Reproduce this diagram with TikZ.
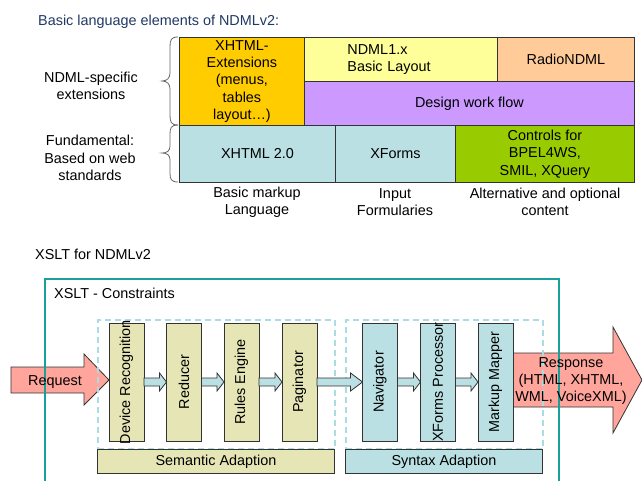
\documentclass[tikz,border=0pt]{standalone}
\usepackage{fontspec}
\setmainfont{Liberation Sans}
\usetikzlibrary{calc,backgrounds}
\definecolor{navy}{HTML}{203864}
\definecolor{tealc}{HTML}{18A09A}
\definecolor{dashblue}{HTML}{A9DCE3}
\definecolor{lblue}{HTML}{BAE0E3}
\definecolor{khaki}{HTML}{E5E5B5}
\definecolor{salmon}{HTML}{FFA59C}
\definecolor{orangec}{HTML}{FFCC00}
\definecolor{yellowc}{HTML}{FFFF99}
\definecolor{peach}{HTML}{FFCC99}
\definecolor{purplec}{HTML}{CC99FF}
\definecolor{greenc}{HTML}{99CC00}
\definecolor{edge}{HTML}{333333}
\begin{document}
\begin{tikzpicture}[x=1pt,y=-1pt,
  every node/.style={font=\fontsize{14.4}{17.4}\selectfont, inner sep=0pt},
  cell/.style={draw=edge, line width=0.9pt, anchor=north west, align=center},
  vbox/.style={draw=edge, line width=0.9pt, rotate=90, minimum width=118pt, minimum height=35pt},
  bar/.style={draw=edge, line width=0.9pt, anchor=north west, minimum height=24pt},
  dashbox/.style={draw=dashblue, line width=1.5pt, dash pattern=on 6pt off 4pt, anchor=north west, minimum height=129pt},
  sarrow/.style={draw=edge, line width=0.8pt, fill=lblue},
  bigarrow/.style={draw=edge, line width=0.8pt, fill=salmon},
  bracec/.style={draw=gray!80!black, line width=0.8pt},
  lbl/.style={align=center}
]
\useasboundingbox (0,0) rectangle (642,481);

% ---------- top part ----------
\node[anchor=west, text=navy] (title) at (38,22) {Basic language elements of NDMLv2:};

\node[cell, fill=orangec, minimum width=125pt, minimum height=88pt] (ext) at (179,37)
  {XHTML-\\Extensions\\(menus,\\tables\\layout\ldots)};
\node[cell, fill=yellowc, minimum width=193pt, minimum height=44pt, text width=107pt, align=left] (ndml) at (304,37)
  {NDML1.x\\Basic Layout};
\node[cell, fill=peach, minimum width=137pt, minimum height=44pt] (radio) at (497,37) {RadioNDML};
\node[cell, fill=purplec, minimum width=330pt, minimum height=44pt] (design) at (304,81) {Design work flow};
\node[cell, fill=lblue, minimum width=156pt, minimum height=57pt] (xhtml) at (179,125) {XHTML 2.0};
\node[cell, fill=lblue, minimum width=120pt, minimum height=57pt] (xforms) at (335,125) {XForms};
\node[cell, fill=greenc, minimum width=179pt, minimum height=57pt] (controls) at (455,125)
  {Controls for\\BPEL4WS,\\SMIL, XQuery};

\node[lbl] (lblmarkup) at (257,202) {Basic markup\\Language};
\node[lbl] (lblinput) at (395,202) {Input\\Formularies};
\node[lbl] (lblalt) at (545,202) {Alternative and optional\\content};

\node[lbl] (lblndml) at (91,86) {NDML-specific\\extensions};
\node[lbl] (lblfund) at (90,158) {Fundamental:\\Based on web\\standards};

\draw[bracec] (178,37) .. controls (171,37) and (170,40) .. (170,47) -- (170,73)
  .. controls (170,78) and (167,81) .. (162,81)
  .. controls (167,81) and (170,84) .. (170,89) -- (170,115)
  .. controls (170,122) and (171,125) .. (178,125);
\draw[bracec] (178,125) .. controls (171,125) and (170,128) .. (170,134) -- (170,146)
  .. controls (170,151) and (167,153) .. (162,153)
  .. controls (167,153) and (170,155) .. (170,160) -- (170,173)
  .. controls (170,179) and (171,182) .. (178,182);

% ---------- bottom part ----------
\node[anchor=west] (xsltt) at (35,254) {XSLT for NDMLv2};

% frames
\draw[tealc, line width=1.5pt] (45,482) -- (45,279) -- (559,279) -- (559,482);
\node[anchor=west] (constr) at (54,293) {XSLT - Constraints};
\node[dashbox, minimum width=237pt] (semdash) at (97,319) {};
\node[dashbox, minimum width=197pt] (syndash) at (345,319) {};
\node[bar, fill=khaki, minimum width=237pt] (sem) at (97,449) {Semantic Adaption};
\node[bar, fill=lblue, minimum width=197pt] (syn) at (345,449) {Syntax Adaption};

% vertical boxes
\node[vbox, fill=khaki] (dr) at (126.5,382) {\makebox[0pt]{Device Recognition}};
\node[vbox, fill=khaki] (red) at (184,382) {\makebox[0pt]{Reducer}};
\node[vbox, fill=khaki] (re) at (241.5,382) {\makebox[0pt]{Rules Engine}};
\node[vbox, fill=khaki] (pag) at (299.5,382) {\makebox[0pt]{Paginator}};
\node[vbox, fill=lblue] (nav) at (380,382) {\makebox[0pt]{Navigator}};
\node[vbox, fill=lblue] (xfp) at (438,382) {\makebox[0pt]{XForms Processor}};
\node[vbox, fill=lblue] (mm) at (495.5,382) {\makebox[0pt]{Markup Mapper}};

% big arrows (behind frames)
\begin{scope}[on background layer]
\draw[bigarrow] ($(dr)+(-115.5,-15)$) -- ($(dr)+(-42.5,-15)$) -- ($(dr)+(-42.5,-28)$)
  -- ($(dr)+(-17.5,-2)$) -- ($(dr)+(-42.5,23)$) -- ($(dr)+(-42.5,11)$) -- ($(dr)+(-115.5,11)$) -- cycle;
\draw[bigarrow] ($(mm)+(17.5,-29)$) -- ($(mm)+(117.5,-29)$) -- ($(mm)+(117.5,-55)$)
  -- ($(mm)+(146.5,-2)$) -- ($(mm)+(117.5,51)$) -- ($(mm)+(117.5,25)$) -- ($(mm)+(17.5,25)$) -- cycle;
\end{scope}
\node (request) at (55,382) {Request};
\node[lbl] (response) at (571,381) {Response\\(HTML, XHTML,\\WML, VoiceXML)};

% small arrows
\foreach \a/\b/\h in {dr/red/7, red/re/7, re/pag/7, pag/nav/12, nav/xfp/7, xfp/mm/7}{
  \draw[sarrow] ($(\a)+(17.5,-4)$) -- ($(\b)+(-17.5-\h,-4)$) -- ($(\b)+(-17.5-\h,-9)$)
    -- ($(\b)+(-17.5,0)$) -- ($(\b)+(-17.5-\h,9)$) -- ($(\b)+(-17.5-\h,4)$) -- ($(\a)+(17.5,4)$) -- cycle;
}
\end{tikzpicture}
\end{document}
